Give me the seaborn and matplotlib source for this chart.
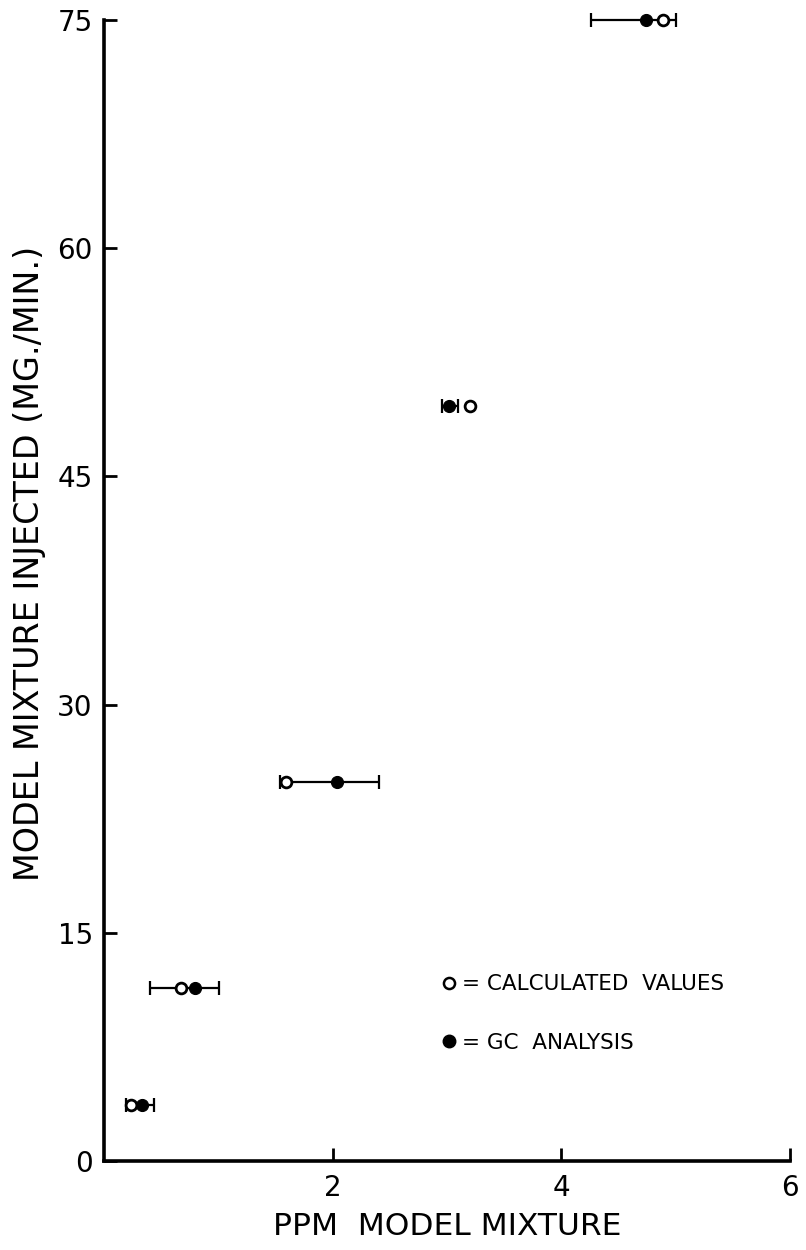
import numpy as np
import pandas as pd
import matplotlib
matplotlib.use("Agg")
import matplotlib.pyplot as plt
from matplotlib.lines import Line2D
import seaborn as sns

# ---- data ----
injected = [3.7, 11.4, 24.9, 49.6, 75.0]          # mg/min
calculated_ppm = [0.24, 0.67, 1.59, 3.20, 4.89]    # open circles
gc_ppm = [0.33, 0.80, 2.04, 3.02, 4.74]            # filled circles
err_low = [0.19, 0.40, 1.54, 2.96, 4.26]           # error bar left end
err_high = [0.44, 1.01, 2.41, 3.10, 5.00]          # error bar right end

x_ticks = [2, 4, 6]
y_ticks = [0, 15, 30, 45, 60, 75]
legend_labels = ["= CALCULATED  VALUES", "= GC  ANALYSIS"]

sns.set_style("ticks")
plt.rcParams['font.family'] = ['DejaVu Sans']
plt.rcParams['text.color'] = 'black'
plt.rcParams['axes.labelcolor'] = 'black'

fig = plt.figure(figsize=(8.06, 12.5), dpi=100)
ax = fig.add_axes([0.129, 0.0712, 0.851, 0.9128])

df = pd.DataFrame({"inj": injected, "calc": calculated_ppm, "gc": gc_ppm})

# error bars around the GC analysis points
gc = np.array(gc_ppm)
xerr = np.vstack([gc - np.array(err_low), np.array(err_high) - gc])
ax.errorbar(gc, injected, xerr=xerr, fmt="none", ecolor="black",
            elinewidth=1.6, capsize=4.7, capthick=1.6, clip_on=False, zorder=2)

sns.scatterplot(data=df, x="gc", y="inj", ax=ax, marker="o", s=75,
                color="black", edgecolor="black", linewidth=0.8, zorder=4,
                clip_on=False)
sns.scatterplot(data=df, x="calc", y="inj", ax=ax, marker="o", s=60,
                facecolor="white", edgecolor="black", linewidth=2.0, zorder=3,
                clip_on=False)

ax.set_xlim(0, 6)
ax.set_ylim(0, 75)
ax.set_xticks(x_ticks)
ax.set_yticks(y_ticks)
ax.set_xticklabels([str(t) for t in x_ticks])
ax.set_yticklabels([str(t) for t in y_ticks])

for s in ["top", "right"]:
    ax.spines[s].set_visible(False)
for s in ["left", "bottom"]:
    ax.spines[s].set_linewidth(2.6)
    ax.spines[s].set_color("black")

ax.tick_params(axis="both", direction="in", length=9.5, width=2, colors="black",
               labelsize=20)
ax.tick_params(axis="x", pad=9)
ax.tick_params(axis="y", pad=8)

ax.set_xlabel("PPM  MODEL MIXTURE", fontsize=22.5, color="black")
ax.xaxis.set_label_coords(0.5, -0.045)
ax.set_ylabel("MODEL MIXTURE INJECTED (MG./MIN.)", fontsize=24, color="black")
ax.yaxis.set_label_coords(-0.084, 0.524)

handles = [
    Line2D([], [], marker="o", linestyle="none", markerfacecolor="white",
           markeredgecolor="black", markeredgewidth=1.8, markersize=8),
    Line2D([], [], marker="o", linestyle="none", markerfacecolor="black",
           markeredgecolor="black", markersize=9),
]
leg = ax.legend(handles, legend_labels,
                loc="center left", bbox_to_anchor=(2.95, 9.7),
                bbox_transform=ax.transData, frameon=False, borderpad=0,
                borderaxespad=0, handlelength=0.7, handletextpad=0.25,
                labelspacing=1.8, prop={"size": 15.5})
for t in leg.get_texts():
    t.set_color("black")

fig.patch.set_facecolor("white")
fig.savefig("out.png", dpi=100, facecolor="white")
